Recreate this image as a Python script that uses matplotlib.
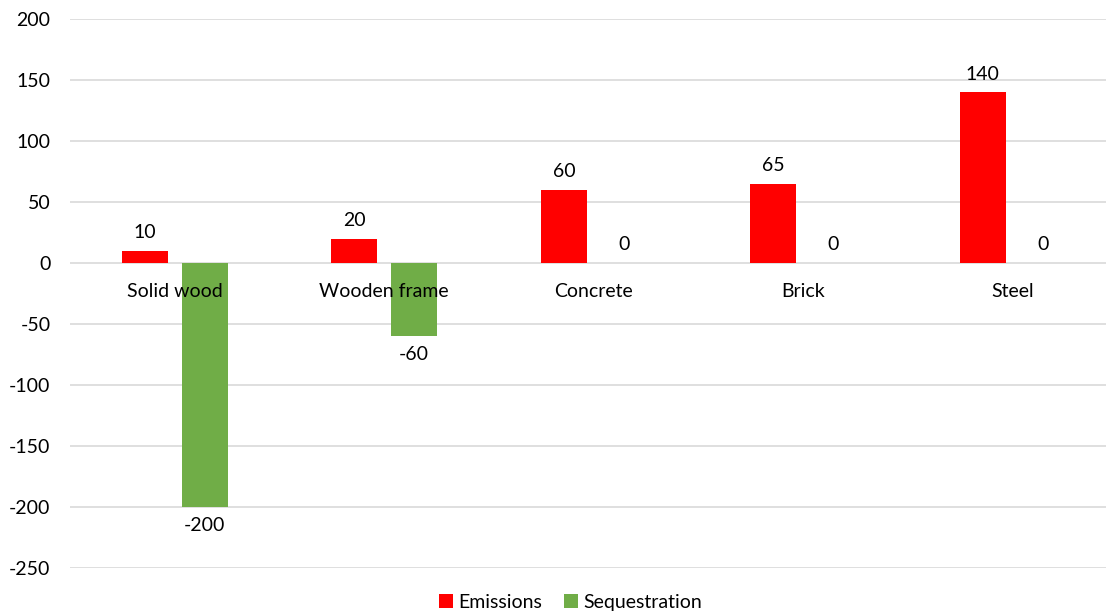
import matplotlib.pyplot as plt
import numpy as np

plt.rcParams['font.family'] = ['Lato', 'DejaVu Sans']
plt.rcParams['axes.unicode_minus'] = False

categories = ["Solid wood", "Wooden frame", "Concrete", "Brick", "Steel"]
emissions = [10, 20, 60, 65, 140]
sequestration = [-200, -60, 0, 0, 0]

red = "#FF0000"
green = "#70AD47"
grid_col = "#D9D9D9"
fs = 14

fig = plt.figure(figsize=(11.06, 6.12), dpi=100)
ax = fig.add_axes([70 / 1106, 1 - 568 / 612, 1047.5 / 1106, 549 / 612])

x = np.arange(len(categories))
w = 0.22
off = 0.1425
b1 = ax.bar(x - off, emissions, w, color=red, label="Emissions", zorder=2)
b2 = ax.bar(x + off, sequestration, w, color=green, label="Sequestration", zorder=2)

# data labels
for bars in (b1, b2):
    for rect in bars:
        v = rect.get_height()
        cx = rect.get_x() + rect.get_width() / 2
        dy = 13 if v >= 0 else -13
        ax.annotate(f"{v:g}", (cx, v), xytext=(0, dy), textcoords="offset points",
                    ha="center", va="center", fontsize=fs, color="#000000")

# category labels sit on the zero line
for i, name in enumerate(categories):
    ax.annotate(name, (i, 0), xytext=(0, -20.5), textcoords="offset points",
                ha="center", va="center", fontsize=fs, color="#000000", zorder=3)

ax.set_xlim(-0.5, len(categories) - 0.5)
ax.set_ylim(-250, 200)
ax.set_yticks(np.arange(-250, 201, 50))
ax.set_xticks([])
ax.tick_params(axis="y", length=0, pad=14, labelsize=fs, labelcolor="#000000")
ax.grid(axis="y", color=grid_col, linewidth=1.2, zorder=0)
ax.set_axisbelow(True)
for s in ax.spines.values():
    s.set_visible(False)

fig.legend(handles=[b1, b2], loc="center", bbox_to_anchor=(0.516, 0.016), ncol=2,
           frameon=False, fontsize=fs, handlelength=0.7, handleheight=0.7,
           handletextpad=0.3, columnspacing=1.1, borderpad=0)

fig.savefig("out.png", dpi=100)
